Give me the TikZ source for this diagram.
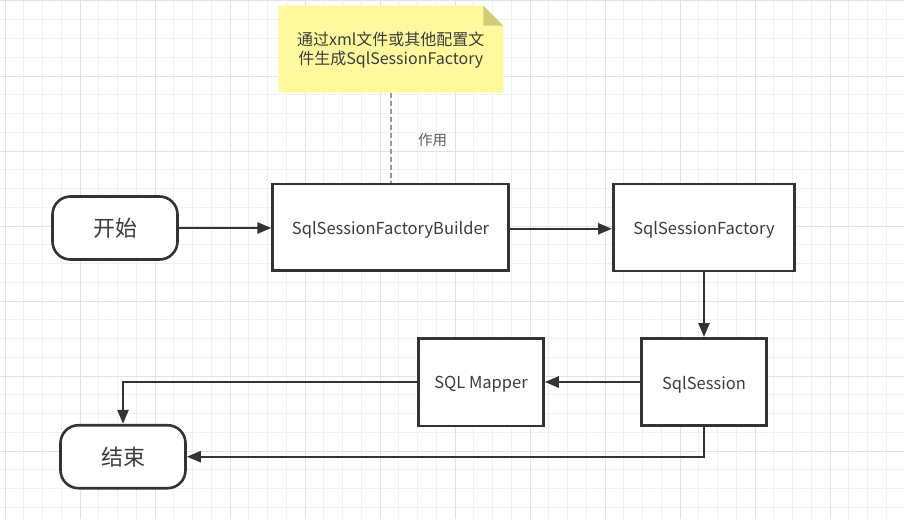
\documentclass[tikz,border=0pt]{standalone}
\usepackage{fontspec}
\setmainfont{Noto Sans CJK SC}
\usetikzlibrary{arrows.meta,calc}
\definecolor{ink}{HTML}{333333}
\definecolor{txt}{HTML}{3C3C3C}
\definecolor{gridminor}{HTML}{F0F0F0}
\definecolor{gridmajor}{HTML}{E2E2E2}
\definecolor{notefill}{HTML}{FFF99E}
\definecolor{notefold}{HTML}{D0CC78}
\definecolor{dashgray}{HTML}{999999}
\newcommand{\lowtxt}[1]{\raisebox{-2.5pt}[\height][\depth]{#1}}
\tikzset{
  procbox/.style={draw=ink, line width=2.6pt, fill=white, text=txt, font=\fontsize{16.5}{20}\selectfont, inner sep=0pt},
  termbox/.style={draw=ink, line width=2.6pt, fill=white, text=txt, rounded corners=18pt, font=\fontsize{22}{26}\selectfont, inner sep=0pt, minimum width=125pt, minimum height=63pt},
  flow/.style={draw=ink, line width=2.4pt, -{Triangle[length=14pt,width=11pt]}},
}
\begin{document}
\begin{tikzpicture}[x=1pt,y=-1pt]
\useasboundingbox (0,0) rectangle (904,519);
\fill[white] (0,0) rectangle (904,519);
% grid
\foreach \i in {0,...,48} {
  \draw[gridminor, line width=1pt] ({5+18.75*\i},0) -- ({5+18.75*\i},519);
}
\foreach \j in {0,...,27} {
  \draw[gridminor, line width=1pt] (0,{1+18.75*\j}) -- (904,{1+18.75*\j});
}
\foreach \i in {0,...,12} {
  \draw[gridmajor, line width=1pt] ({5+75*\i},0) -- ({5+75*\i},519);
}
\foreach \j in {0,...,6} {
  \draw[gridmajor, line width=1pt] (0,{1+75*\j}) -- (904,{1+75*\j});
}
% note
\fill[notefill] (278.3,5.7) -- (483.3,5.7) -- (503.3,25.7) -- (503.3,92.7) -- (278.3,92.7) -- cycle;
\fill[notefold] (483.3,5.7) -- (503.3,25.7) -- (483.3,25.7) -- cycle;
\node[text=txt, font=\fontsize{16}{19.5}\selectfont, align=center, inner sep=0pt] (note) at (390.8,50) {通过xml文件或其他配置文\\件生成SqlSessionFactory};
\coordinate (notebottom) at (391,92.7);
% nodes
\node[termbox] (start) at (115,228) {开始};
\node[procbox, minimum width=235.6pt, minimum height=86.7pt] (builder) at (390.5,227.3) {\lowtxt{SqlSessionFactoryBuilder}};
\node[procbox, minimum width=181.4pt, minimum height=87pt] (factory) at (704,227.5) {\lowtxt{SqlSessionFactory}};
\node[procbox, minimum width=125.4pt, minimum height=87.4pt] (session) at (704,382) {\lowtxt{SqlSession}};
\node[procbox, minimum width=125pt, minimum height=87.6pt] (mapper) at (481,382) {\lowtxt{SQL Mapper}};
\node[termbox] (end) at (123,456.7) {结束};
% dashed association
\draw[dashgray, line width=1.3pt, dash pattern=on 5pt off 3pt] (notebottom) -- (builder.north -| notebottom);
\node[text=ink!80, font=\fontsize{14.5}{17}\selectfont, inner sep=0pt] (uselbl) at (432.5,140) {作用};
% connectors
\draw[flow] (start.east) -- (start.east -| builder.west);
\draw[flow] ($(builder.east)+(0,1.5)$) -- ($(factory.west)+(0,1.3)$);
\draw[flow] (factory.south) -- (session.north);
\draw[flow] (session.west) -- (mapper.east);
\draw[flow] (mapper.west) -| (end.north);
\draw[flow] (session.south) |- (end.east);
\end{tikzpicture}
\end{document}
